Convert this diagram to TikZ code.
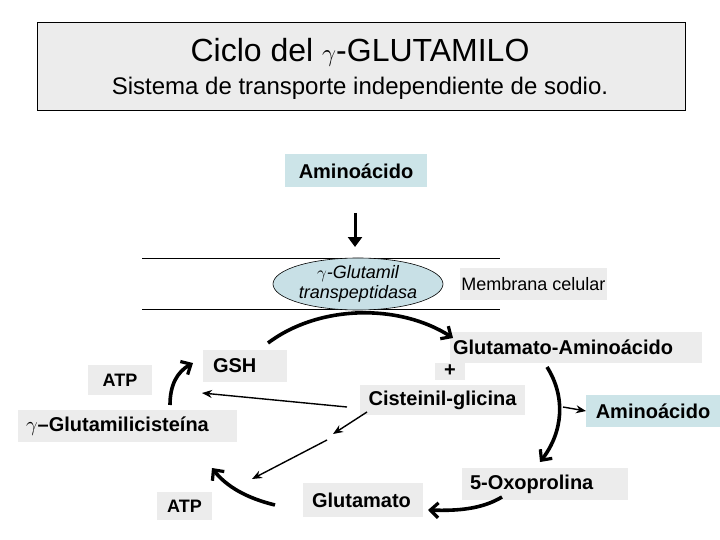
\documentclass[tikz,border=0pt]{standalone}
\usepackage{fontspec}
\setmainfont{Liberation Sans}
\usetikzlibrary{arrows.meta,shapes.geometric}
\definecolor{dotgray}{RGB}{236,236,236}
\definecolor{lblue}{RGB}{204,228,232}
\definecolor{eblue}{RGB}{200,224,230}
\tikzset{
  lbl/.style={fill=dotgray,inner sep=0pt,font=\bfseries\fontsize{20}{22}\selectfont},
  bluelbl/.style={fill=lblue,inner sep=0pt,font=\bfseries\fontsize{20}{22}\selectfont},
  thick arrow/.style={line width=3.6pt,-{Straight Barb[length=8pt,width=15pt,line width=3.2pt]}},
  thin arrow/.style={line width=1.4pt,-{Stealth[length=10pt,width=8pt]}},
  memline/.style={line width=0.8pt}
}
\begin{document}
\begin{tikzpicture}[x=1pt,y=-1pt]
\useasboundingbox (0,0) rectangle (720,540);
% title
\node[draw=black,line width=0.8pt,fill=dotgray,minimum width=648pt,minimum height=88pt,inner sep=0pt] (titlebox) at (361,66) {};
\node[font=\fontsize{32}{36}\selectfont] (title) at (360,52) {Ciclo del $\gamma$-GLUTAMILO};
\node[font=\fontsize{24}{28}\selectfont] (subtitle) at (360,88) {Sistema de transporte independiente de sodio.};
% top aminoacid
\node[bluelbl,minimum width=142pt,minimum height=33pt] (aa1) at (356,171) {Aminoácido};
\coordinate (dtop) at (355,213);
\coordinate (dbot) at (355,247);
\draw[line width=3pt,-{Triangle[length=10pt,width=14pt]}] (dtop) -- (dbot);
% membrane
\coordinate (m1a) at (142,258); \coordinate (m1b) at (500,258);
\coordinate (m2a) at (142,309); \coordinate (m2b) at (500,309);
\draw[memline] (m1a) -- (m1b);
\draw[memline] (m2a) -- (m2b);
\node[ellipse,draw=black,line width=0.6pt,fill=eblue,minimum width=170pt,minimum height=51pt,inner sep=0pt,align=center,font=\itshape\fontsize{18}{20}\selectfont] (enz) at (358,284) {$\gamma$-Glutamil\\transpeptidasa};
\node[fill=dotgray,minimum width=147pt,minimum height=32pt,inner sep=0pt,font=\fontsize{18}{20}\selectfont] (mem) at (533.5,284) {Membrana celular};
% nodes
\node[lbl,text width=64pt,align=left,minimum height=32pt,inner xsep=10pt] (gsh) at (245,366) {GSH};
\node[lbl,minimum width=64pt,minimum height=30pt,font=\bfseries\fontsize{18}{20}\selectfont] (atp1) at (120,380) {ATP};
\node[lbl,text width=246pt,align=left,minimum height=31pt,inner xsep=3pt] (glam) at (576,347.5) {Glutamato-Aminoácido};
\node[lbl,minimum width=30pt,minimum height=17pt] (plus) at (450,371) {+};
\node[lbl,minimum width=165pt,minimum height=30pt] (cis) at (442.5,400) {Cisteinil-glicina};
\node[bluelbl,minimum width=134pt,minimum height=32pt] (aa2) at (653,411) {Aminoácido};
\node[lbl,text width=203pt,align=left,minimum height=32pt,inner xsep=8pt] (gglu) at (127.5,426) {$\gamma$--Glutamilicisteína};
\node[lbl,minimum width=55pt,minimum height=28pt,font=\bfseries\fontsize{18}{20}\selectfont] (atp2) at (184.5,506) {ATP};
\node[lbl,text width=102pt,align=left,minimum height=34pt,inner xsep=9pt] (glut) at (363,500) {Glutamato};
\node[lbl,text width=150pt,align=left,minimum height=32pt,inner xsep=8pt] (oxo) at (545,484) {5-Oxoprolina};
% thick arrows
\coordinate (g1) at (268,343); \coordinate (g2) at (453,338);
\draw[thick arrow] (g1) .. controls (320,304) and (400,304) .. (g2);
\coordinate (c1) at (170,405); \coordinate (c2) at (193,363);
\draw[thick arrow] (c1) .. controls (170,385) and (177,372) .. (c2);
\coordinate (h1) at (547,367); \coordinate (h2) at (540,462);
\draw[thick arrow] (h1) .. controls (566,397) and (563,432) .. (h2);
\coordinate (o1) at (502,497); \coordinate (o2) at (428,510);
\draw[thick arrow] (o1) .. controls (482,509) and (458,511) .. (o2);
\coordinate (u1) at (275,505); \coordinate (u2) at (212,468);
\draw[thick arrow] (u1) .. controls (246,498) and (226,486) .. (u2);
% thin arrows
\coordinate (t1) at (563,407); \coordinate (t2) at (586,411);
\draw[thin arrow] (t1) -- (t2);
\coordinate (k1) at (347,407); \coordinate (k2) at (202,393);
\draw[thin arrow] (k1) -- (k2);
\coordinate (s1) at (367,412); \coordinate (s2) at (333,434);
\draw[thin arrow] (s1) -- (s2);
\coordinate (r1) at (327,440); \coordinate (r2) at (252,479);
\draw[thin arrow] (r1) -- (r2);
\end{tikzpicture}
\end{document}
